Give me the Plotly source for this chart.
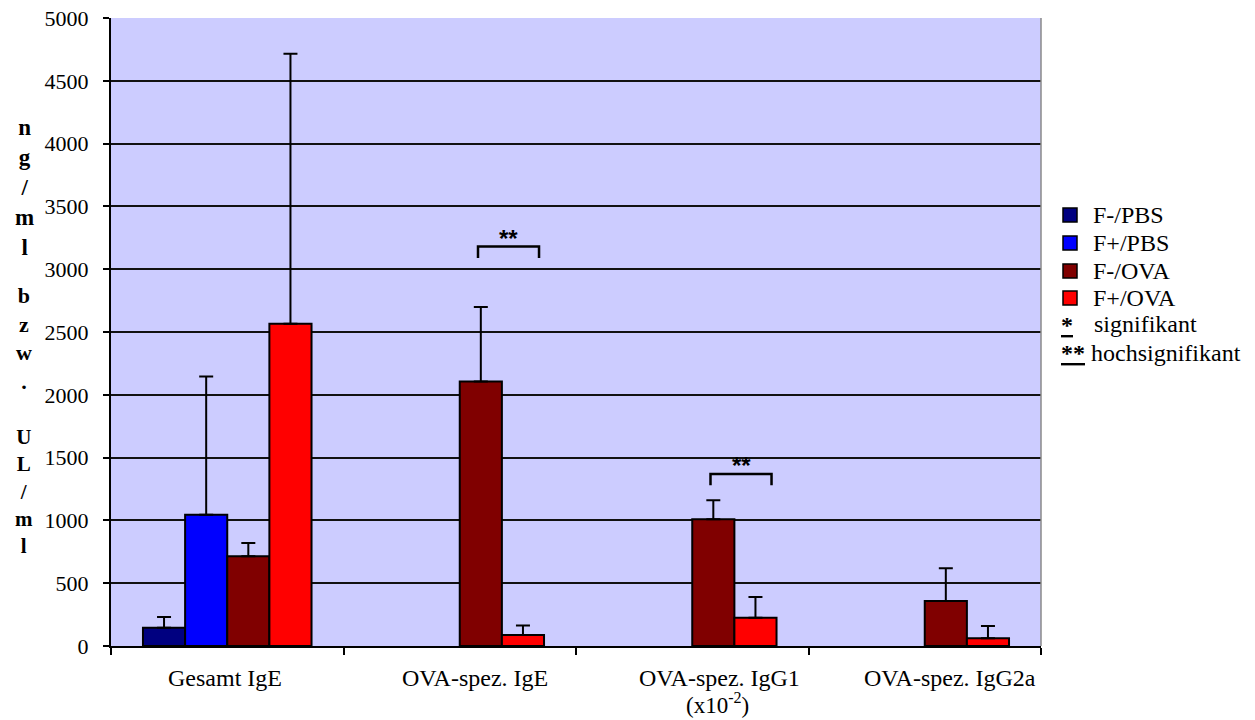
import plotly.graph_objects as go

# ---- data ---------------------------------------------------------------
categories = ["Gesamt IgE", "OVA-spez. IgE", "OVA-spez. IgG1", "OVA-spez. IgG2a"]
category_labels = ["Gesamt IgE", "OVA-spez. IgE", "OVA-spez. IgG1", "OVA-spez. IgG2a"]
category_sublabels = ["", "", "(x10<sup>-2</sup>)", ""]
groups = ["F-/PBS", "F+/PBS", "F-/OVA", "F+/OVA"]

f_minus_pbs = [145, None, None, None]
f_minus_pbs_sd = [85, None, None, None]
f_plus_pbs = [1045, None, None, None]
f_plus_pbs_sd = [1100, None, None, None]
f_minus_ova = [715, 2105, 1010, 358]
f_minus_ova_sd = [105, 595, 150, 262]
f_plus_ova = [2565, 88, 225, 62]
f_plus_ova_sd = [2150, 75, 165, 98]

# significance brackets: category index, bracket level (data units), label
sig_categories = [1, 2]
sig_levels = [3180, 1370]
sig_labels = ["**", "**"]

y_ticks = [0, 500, 1000, 1500, 2000, 2500, 3000, 3500, 4000, 4500, 5000]

colors = ["#000080", "#0000ff", "#800000", "#ff0000"]
values = [f_minus_pbs, f_plus_pbs, f_minus_ova, f_plus_ova]
errors = [f_minus_pbs_sd, f_plus_pbs_sd, f_minus_ova_sd, f_plus_ova_sd]

# ---- geometry helpers (pixel -> paper) ----------------------------------
W, H = 1255, 720
L, R, T, B = 111, 1041, 18, 646
PW, PH = R - L, B - T


def px_x(px):
    return (px - L) / PW


def px_y(py):
    return (B - py) / PH


SERIF = "Liberation Serif, Times New Roman, Times, serif"

fig = go.Figure()
for name, vals, errs, col in zip(groups, values, errors, colors):
    fig.add_trace(go.Bar(
        name=name,
        x=categories,
        y=vals,
        marker=dict(color=col, line=dict(color="black", width=2)),
        error_y=dict(type="data", array=errs, arrayminus=[0] * len(errs),
                     symmetric=False, color="black", thickness=2, width=7),
        showlegend=False,
    ))

shapes = []
annotations = []

# significance brackets with stars
for ci, lvl, lab in zip(sig_categories, sig_levels, sig_labels):
    x0 = ci + 0.0785
    x1 = ci + 0.341
    leg = 90
    shapes.append(dict(type="path", xref="x", yref="y",
                       path=f"M {x0},{lvl - leg} L {x0},{lvl} L {x1},{lvl} L {x1},{lvl - leg}",
                       line=dict(color="black", width=2.5)))
    annotations.append(dict(x=(x0 + x1) / 2, y=lvl, xref="x", yref="y",
                            text=f"<b>{lab}</b>", showarrow=False, yanchor="bottom",
                            yshift=-7,
                            font=dict(family="Liberation Sans, Arial, sans-serif", size=24, color="black")))

# category labels below the axis
label_px = [225, 475, 719, 950]
for lab, sub, px in zip(category_labels, category_sublabels, label_px):
    annotations.append(dict(x=px_x(px), y=px_y(678), xref="paper", yref="paper",
                            text=lab, showarrow=False, xanchor="center", yanchor="middle",
                            font=dict(family=SERIF, size=24, color="black")))
    if sub:
        annotations.append(dict(x=px_x(px - 2), y=px_y(703), xref="paper", yref="paper",
                                text=sub, showarrow=False, xanchor="center", yanchor="middle",
                                font=dict(family=SERIF, size=23, color="black")))

# vertical stacked y-axis title, three blocks of letters
title_blocks = [("n<br>g<br>/<br>m<br>l", 187, 23),
                ("b<br>z<br>w<br>.", 339, 22),
                ("U<br>L<br>/<br>m<br>l", 491, 21)]
for txt, py, fs in title_blocks:
    annotations.append(dict(x=px_x(24), y=px_y(py), xref="paper", yref="paper",
                            text=f"<b>{txt}</b>", showarrow=False,
                            xanchor="center", yanchor="middle", align="center",
                            font=dict(family=SERIF, size=fs, color="black")))

# legend: colour swatches
legend_rows = [215, 243, 271, 298]
for name, col, py in zip(groups, colors, legend_rows):
    shapes.append(dict(type="rect", xref="paper", yref="paper",
                       x0=px_x(1063), x1=px_x(1077), y0=px_y(py + 7), y1=px_y(py - 7),
                       fillcolor=col, line=dict(color="black", width=1.5)))
    annotations.append(dict(x=px_x(1091), y=px_y(py), xref="paper", yref="paper",
                            text=name, showarrow=False, xanchor="left", yanchor="middle",
                            font=dict(family=SERIF, size=24, color="black")))

# legend: significance keys
annotations.append(dict(x=px_x(1067), y=px_y(325), xref="paper", yref="paper",
                        text="<b><u>*</u></b>", showarrow=False, xanchor="center", yanchor="middle",
                        font=dict(family=SERIF, size=24, color="black")))
annotations.append(dict(x=px_x(1092), y=px_y(324), xref="paper", yref="paper",
                        text="signifikant", showarrow=False, xanchor="left", yanchor="middle",
                        font=dict(family=SERIF, size=24, color="black")))
annotations.append(dict(x=px_x(1059), y=px_y(353), xref="paper", yref="paper",
                        text="<b><u>**</u></b> hochsignifikant", showarrow=False,
                        xanchor="left", yanchor="middle",
                        font=dict(family=SERIF, size=24, color="black")))

# light right-hand frame line of the plot area
shapes.append(dict(type="line", xref="paper", yref="paper", x0=1, x1=1, y0=0, y1=1,
                   line=dict(color="#8a8a8a", width=1.5), layer="above"))

fig.update_layout(
    width=W, height=H,
    margin=dict(l=L, r=W - R, t=T, b=H - B, pad=0),
    paper_bgcolor="white",
    plot_bgcolor="#ccccff",
    barmode="group",
    bargap=0.275,
    bargroupgap=0,
    showlegend=False,
    shapes=shapes,
    annotations=annotations,
    font=dict(family=SERIF, color="black"),
    xaxis=dict(
        automargin=False,
        showticklabels=False,
        tickson="boundaries",
        ticks="outside", ticklen=7, tickwidth=2, tickcolor="black",
        showline=True, linecolor="black", linewidth=2,
        showgrid=False, zeroline=False,
        range=[-0.5, 3.5],
    ),
    yaxis=dict(
        automargin=False,
        range=[0, 5000],
        tickvals=y_ticks,
        ticktext=[str(v) for v in y_ticks],
        ticks="outside", ticklen=6, tickwidth=2, tickcolor="black",
        ticklabelstandoff=10,
        tickfont=dict(family=SERIF, size=22, color="black"),
        showline=True, linecolor="black", linewidth=2,
        showgrid=True, gridcolor="#111111", gridwidth=2,
        zeroline=False,
    ),
)

fig.write_html("out.html")
